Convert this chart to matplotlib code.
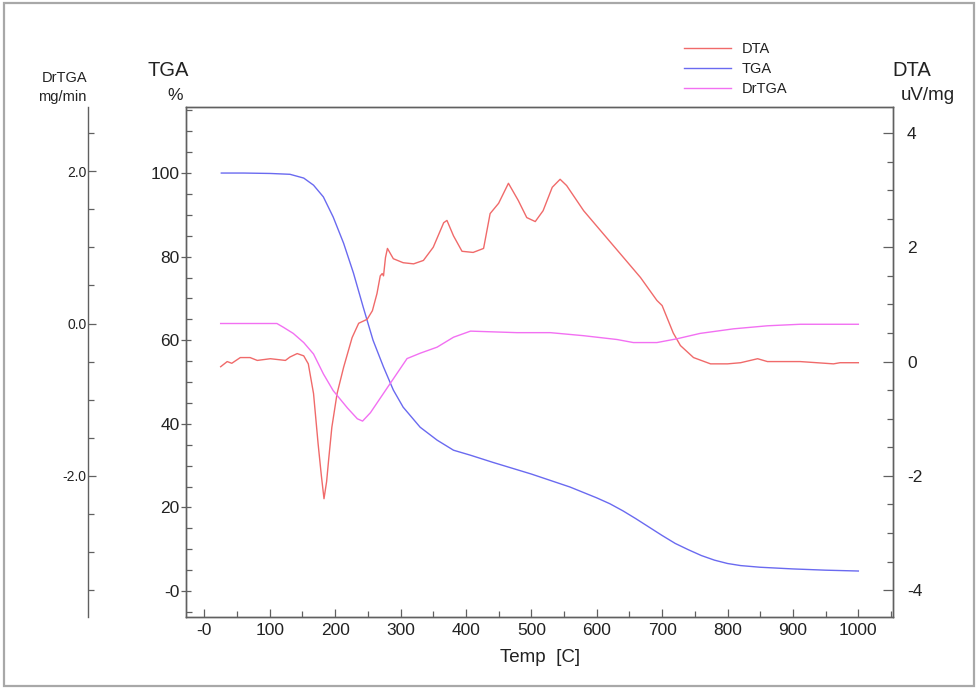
import matplotlib
matplotlib.use("Agg")
import matplotlib.pyplot as plt
from matplotlib.ticker import MultipleLocator, FuncFormatter
from matplotlib.patches import Rectangle
from matplotlib.lines import Line2D

plt.rcParams['font.family'] = ['Liberation Sans', 'DejaVu Sans']

# ---------------- data ----------------
tga_temp = [26, 60, 101, 131, 152, 167, 182, 197, 213, 228, 243, 258, 274, 289, 304, 330,
            356, 381, 407, 441, 500, 559, 600, 620, 640, 660, 680, 700, 720, 740, 760, 780,
            800, 820, 850, 900, 950, 1000]
tga_val = [100, 100, 99.9, 99.7, 98.8, 97.1, 94.3, 89.5, 83.2, 76.1, 67.9, 60, 53.6, 48.1,
           44, 39.2, 36.1, 33.7, 32.5, 30.8, 28, 24.9, 22.3, 20.9, 19.2, 17.3, 15.3, 13.3,
           11.4, 9.9, 8.5, 7.4, 6.6, 6.1, 5.7, 5.3, 5.0, 4.8]

dta_temp = [25, 35, 42, 55, 70, 81, 101, 124, 131, 142, 152, 159, 167, 174, 179, 183, 187,
            190, 195, 203, 213, 226, 236, 249, 257, 264, 269, 272, 274, 277, 280, 284, 289,
            304, 320, 335, 350, 366, 371, 381, 394, 411, 427, 437, 450, 465, 480, 493, 506,
            518, 532, 544, 554, 580, 606, 641, 667, 692, 700, 717, 728, 748, 774, 800, 820,
            846, 861, 911, 962, 972, 1000]
dta_val = [-0.09, 0, -0.03, 0.07, 0.07, 0.02, 0.05, 0.02, 0.08, 0.14, 0.1, -0.04, -0.56,
           -1.44, -2.0, -2.4, -2.1, -1.73, -1.15, -0.56, -0.1, 0.42, 0.67, 0.74, 0.89, 1.19,
           1.5, 1.54, 1.5, 1.82, 1.98, 1.9, 1.8, 1.73, 1.71, 1.77, 2.0, 2.43, 2.47, 2.2,
           1.93, 1.91, 1.98, 2.59, 2.77, 3.12, 2.82, 2.52, 2.45, 2.64, 3.05, 3.19, 3.08,
           2.64, 2.29, 1.82, 1.47, 1.07, 0.98, 0.5, 0.28, 0.07, -0.04, -0.04, -0.02, 0.05,
           0, 0, -0.04, -0.02, -0.02]

drtga_temp = [25, 111, 121, 136, 152, 167, 182, 197, 219, 234, 242, 254, 280, 310, 330, 356,
              381, 407, 478, 529, 580, 631, 656, 692, 723, 758, 809, 861, 911, 962, 1000]
drtga_val = [0, 0, -0.05, -0.13, -0.25, -0.4, -0.66, -0.88, -1.11, -1.25, -1.28, -1.17,
             -0.84, -0.46, -0.39, -0.31, -0.18, -0.1, -0.12, -0.12, -0.16, -0.21, -0.25,
             -0.25, -0.2, -0.13, -0.07, -0.03, -0.01, -0.01, -0.01]

series_labels = ["DTA", "TGA", "DrTGA"]

# ---------------- style ----------------
c_dta = '#f06a6a'
c_tga = '#6a6af0'
c_dr = '#f270f2'
spine_c = '#606060'
txt_c = '#222222'

W, H = 978, 689
fig = plt.figure(figsize=(W / 100, H / 100), dpi=100)

# frame border
fig.patches.append(Rectangle((4 / W, 3 / H), (974 - 4) / W, (686 - 3) / H,
                             transform=fig.transFigure, fill=False,
                             edgecolor='#a8a8a8', linewidth=1.6))

L, R, T, B = 186, 893, 107, 617
ax = fig.add_axes([L / W, (H - B) / H, (R - L) / W, (B - T) / H])
ax_dta = ax.twinx()
ax_dr = ax.twinx()

# limits
ax.set_xlim(-28, 1053)
ax.set_ylim(-6.2, 115.8)
ax_dta.set_ylim(-4.47, 4.455)
ax_dr.set_ylim(-3.85, 2.84)

# curves
ax_dta.plot(dta_temp, dta_val, color=c_dta, lw=1.0, zorder=3)
ax.plot(tga_temp, tga_val, color=c_tga, lw=1.0, zorder=3)
ax_dr.plot(drtga_temp, drtga_val, color=c_dr, lw=1.0, zorder=3)

# spines
for a in (ax, ax_dta):
    for s in a.spines.values():
        s.set_color(spine_c)
        s.set_linewidth(1.0)
for name, s in ax_dr.spines.items():
    s.set_visible(name == 'left')
ax_dr.spines['left'].set_position(('axes', (88 - L) / (R - L)))
ax_dr.spines['left'].set_color(spine_c)
ax_dr.spines['left'].set_linewidth(1.0)
ax_dr.yaxis.set_ticks_position('left')
ax_dr.yaxis.set_label_position('left')


def zero_fmt(v, pos):
    if abs(v) < 1e-9:
        return "-0"
    return f"{v:.0f}"


# x axis
ax.xaxis.set_major_locator(MultipleLocator(100))
ax.xaxis.set_minor_locator(MultipleLocator(50))
ax.xaxis.set_major_formatter(FuncFormatter(zero_fmt))
ax.tick_params(axis='x', which='major', direction='in', length=6, width=0.9,
               color=spine_c, labelsize=12.5, pad=4, labelcolor=txt_c)
ax.tick_params(axis='x', which='minor', direction='in', length=4, width=0.9, color=spine_c)

# TGA axis
ax.yaxis.set_major_locator(MultipleLocator(20))
ax.yaxis.set_minor_locator(MultipleLocator(5))
ax.yaxis.set_major_formatter(FuncFormatter(zero_fmt))
ax.tick_params(axis='y', which='major', direction='inout', length=7, width=0.9,
               color=spine_c, labelsize=12.5, pad=1, labelcolor=txt_c)
ax.tick_params(axis='y', which='minor', direction='in', length=4, width=0.9, color=spine_c)

# DTA axis
ax_dta.yaxis.set_major_locator(MultipleLocator(2))
ax_dta.yaxis.set_minor_locator(MultipleLocator(0.5))
ax_dta.yaxis.set_major_formatter(FuncFormatter(lambda v, p: f"{v:.0f}"))
ax_dta.tick_params(axis='y', which='major', direction='in', length=7, width=0.9,
                   color=spine_c, labelsize=12.5, pad=10, labelcolor=txt_c)
ax_dta.tick_params(axis='y', which='minor', direction='in', length=4, width=0.9,
                   color=spine_c)

# DrTGA axis
ax_dr.yaxis.set_major_locator(MultipleLocator(2))
ax_dr.yaxis.set_minor_locator(MultipleLocator(0.5))
ax_dr.yaxis.set_major_formatter(FuncFormatter(lambda v, p: f"{v:.1f}"))
ax_dr.tick_params(axis='y', which='major', direction='in', length=6, width=0.9,
                  color=spine_c, labelsize=10, pad=1, labelcolor=txt_c)
ax_dr.tick_params(axis='y', which='minor', direction='in', length=4, width=0.9,
                  color=spine_c)

# axis titles
def ftext(x, y, s, size):
    fig.text(x / W, 1 - y / H, s, ha='center', va='center', fontsize=size, color=txt_c)

ftext(168, 70, "TGA", 14.5)
ftext(175, 96, "%", 12.5)
ftext(912, 70, "DTA", 14.5)
ftext(928, 96, "uV/mg", 13.5)
ftext(65, 78, "DrTGA", 10.5)
ftext(62, 97, "mg/min", 10.5)
ftext(540, 657, "Temp  [C]", 13.5)

# legend
handles = [Line2D([], [], color=c, lw=1.0) for c in (c_dta, c_tga, c_dr)]
fig.legend(handles, series_labels, loc='upper left',
           bbox_to_anchor=(684 / W, 1 - 42 / H), frameon=False, fontsize=10.5,
           handlelength=3.2, handletextpad=0.75, labelspacing=0.42,
           borderaxespad=0, borderpad=0, labelcolor=txt_c)

fig.savefig("out.png", dpi=100)
